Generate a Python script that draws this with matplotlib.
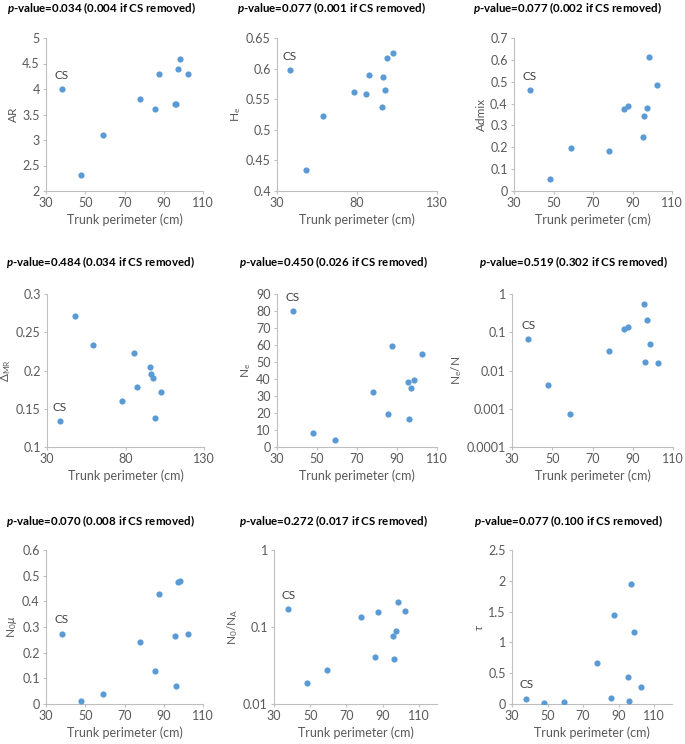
import matplotlib
matplotlib.use('Agg')
import numpy as np
import matplotlib.pyplot as plt
from matplotlib.ticker import FixedLocator, LogLocator, FuncFormatter

plt.rcParams['font.family'] = ['Lato', 'DejaVu Sans']
plt.rcParams['mathtext.fontset'] = 'custom'
plt.rcParams['mathtext.rm'] = 'Lato'
plt.rcParams['mathtext.it'] = 'Lato:italic'
plt.rcParams['mathtext.bf'] = 'Lato:bold'
plt.rcParams['mathtext.bfit'] = 'Lato:italic:bold'

# Trunk perimeter (cm) of the 11 populations, CS first
perimeter = [38, 48, 59, 78, 85.5, 87.5, 95.5, 96, 97.2, 98.5, 102.5]

ar = [4.0, 2.31, 3.1, 3.8, 3.6, 4.3, 3.7, 3.7, 4.4, 4.59, 4.3]
he = [0.597, 0.435, 0.523, 0.561, 0.559, 0.590, 0.537, 0.587, 0.565, 0.617, 0.626]
admix = [0.461, 0.055, 0.198, 0.185, 0.377, 0.389, 0.247, 0.343, 0.382, 0.615, 0.486]
delta_mr = [0.134, 0.271, 0.233, 0.160, 0.223, 0.179, 0.204, 0.196, 0.190, 0.138, 0.172]
ne = [80, 8.2, 4.2, 32.5, 19.2, 59.2, 38.4, 16.7, 34.5, 39.6, 54.7]
ne_n = [0.067, 0.0041, 0.00074, 0.033, 0.122, 0.134, 0.55, 0.0167, 0.205, 0.048, 0.0154]
n0mu = [0.274, 0.013, 0.039, 0.241, 0.127, 0.430, 0.266, 0.071, 0.477, 0.479, 0.274]
n0_na = [0.172, 0.0188, 0.0275, 0.136, 0.041, 0.158, 0.076, 0.038, 0.088, 0.212, 0.163]
tau = [0.087, 0.01, 0.027, 0.66, 0.097, 1.445, 0.433, 0.049, 1.948, 1.169, 0.281]

titles = [
    ('0.034', '0.004'), ('0.077', '0.001'), ('0.077', '0.002'),
    ('0.484', '0.034'), ('0.450', '0.026'), ('0.519', '0.302'),
    ('0.070', '0.008'), ('0.272', '0.017'), ('0.077', '0.100'),
]
ylabels = ['AR', r'H$_\mathregular{e}$', 'Admix',
           r'$\Delta_\mathregular{MR}$', r'N$_\mathregular{e}$', r'N$_\mathregular{e}$/N',
           r'N$_\mathregular{0}$$\mu$', r'N$_\mathregular{0}$/N$_\mathregular{A}$', r'$\tau$']
series = [ar, he, admix, delta_mr, ne, ne_n, n0mu, n0_na, tau]

# (ymin, ymax, step or None for log), (xmin, xmax, xstep)
yaxes = [(2, 5, 0.5), (0.4, 0.65, 0.05), (0, 0.7, 0.1),
         (0.1, 0.3, 0.05), (0, 90, 10), (0.0001, 1, None),
         (0, 0.6, 0.1), (0.01, 1, None), (0, 2.5, 0.5)]
xaxes = [(30, 110, 20), (30, 130, 50), (30, 110, 20),
         (30, 130, 50), (30, 110, 20), (30, 110, 20),
         (30, 110, 20), (30, 120, 20), (30, 120, 20)]

W, H = 685, 744
# axes boxes in pixels: left, right, top, bottom
boxes = [(46, 203, 38, 191), (277, 437, 38, 191), (514, 672, 38, 191),
         (47, 204, 294, 447), (277, 437, 294, 447), (512, 673, 294, 447),
         (46, 203, 550, 704), (274, 437, 550, 704), (512, 672, 550, 704)]
title_x = [101, 331, 567, 100, 333, 573, 100, 333, 568]
title_y = [8, 8, 8, 262, 262, 262, 521, 521, 521]

blue = '#5B9BD5'
grey_txt = '#595959'
axis_col = '#BFBFBF'

fig = plt.figure(figsize=(W / 100, H / 100), dpi=100)

def fmt_num(v, pos):
    s = ('%.4f' % v).rstrip('0').rstrip('.')
    return s

for i in range(9):
    l, r, t, b = boxes[i]
    ax = fig.add_axes([l / W, 1 - b / H, (r - l) / W, (b - t) / H])
    ax.scatter(perimeter, series[i], s=20, color=blue, zorder=3, linewidths=0)

    ymin, ymax, ystep = yaxes[i]
    xmin, xmax, xstep = xaxes[i]
    ax.set_xlim(xmin, xmax)
    xt = np.arange(xmin, xmax + 0.01, xstep)
    ax.set_xticks(xt)
    ax.set_xticklabels(['%d' % v for v in xt])
    if ystep is None:
        ax.set_yscale('log')
        ax.set_ylim(ymin, ymax)
        ax.yaxis.set_major_locator(LogLocator(base=10, numticks=10))
        ax.yaxis.set_minor_locator(FixedLocator([]))
        ax.yaxis.set_major_formatter(FuncFormatter(fmt_num))
    else:
        ax.set_ylim(ymin, ymax)
        yt = np.arange(ymin, ymax + ystep / 100, ystep)
        ax.set_yticks(yt)
        ax.yaxis.set_major_formatter(FuncFormatter(fmt_num))

    for side in ['top', 'right']:
        ax.spines[side].set_visible(False)
    for side in ['left', 'bottom']:
        ax.spines[side].set_color(axis_col)
        ax.spines[side].set_linewidth(0.8)
    ax.tick_params(axis='both', which='both', direction='out', length=2.5, width=0.8,
                   color=axis_col, labelcolor=grey_txt, labelsize=9, pad=2)
    ax.set_xlabel('Trunk perimeter (cm)', fontsize=9, color=grey_txt, labelpad=3)
    ax.set_ylabel(ylabels[i], fontsize=8.5, color=grey_txt, labelpad=2)

    # CS label above the first point
    ax.annotate('CS', (perimeter[0], series[i][0]), xytext=(0, 6),
                textcoords='offset points', ha='center', va='bottom',
                fontsize=8.5, color='#404040')

    p, p2 = titles[i]
    fig.text(title_x[i] / W, 1 - title_y[i] / H,
             r'$\mathbfit{p}$-value=%s (%s if CS removed)' % (p, p2),
             ha='center', va='center', fontsize=8.3, fontweight='bold', color='black')

fig.savefig('out.png', dpi=100)
plt.close()
